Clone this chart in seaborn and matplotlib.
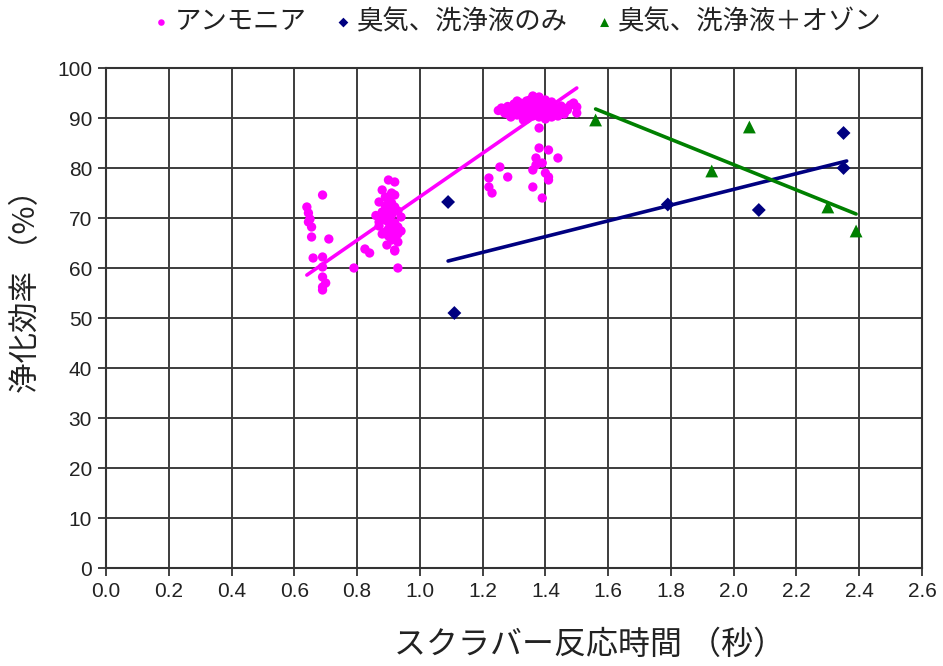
import matplotlib
matplotlib.use("Agg")
import matplotlib.pyplot as plt
import numpy as np
import pandas as pd
import seaborn as sns

# series names
series_names = ["アンモニア", "臭気、洗浄液のみ", "臭気、洗浄液＋オゾン"]

# pink - ammonia, upper dense cluster
amm_top_x = [1.25, 1.26, 1.27, 1.28, 1.28, 1.29, 1.30, 1.30, 1.31, 1.31,
             1.32, 1.32, 1.33, 1.33, 1.34, 1.34, 1.35, 1.35, 1.35, 1.36,
             1.36, 1.36, 1.37, 1.37, 1.37, 1.38, 1.38, 1.38, 1.38, 1.39,
             1.39, 1.39, 1.40, 1.40, 1.40, 1.41, 1.41, 1.42, 1.42, 1.43,
             1.43, 1.44, 1.44, 1.45, 1.45, 1.46, 1.47, 1.48, 1.49, 1.50,
             1.50, 1.31, 1.33, 1.36, 1.40, 1.34, 1.29, 1.38, 1.42, 1.47]
amm_top_y = [91.5, 92.0, 91.0, 92.3, 90.8, 91.6, 92.8, 91.2, 90.6, 92.4,
             91.8, 93.0, 90.9, 92.2, 91.4, 93.4, 90.7, 92.0, 93.6, 91.2,
             92.6, 90.4, 91.8, 93.2, 90.9, 94.2, 92.0, 91.0, 90.2, 93.0,
             91.6, 90.6, 92.4, 91.2, 89.8, 92.8, 90.8, 91.6, 90.2, 92.2,
             91.0, 91.8, 90.4, 92.4, 91.2, 90.8, 91.6, 92.6, 93.0, 92.2,
             91.0, 93.4, 89.6, 94.4, 93.6, 89.8, 90.2, 92.8, 93.2, 92.0]

# pink - lower scattered points right of 1.2
amm_low_x = [1.38, 1.38, 1.41, 1.37, 1.44, 1.39, 1.255, 1.36, 1.41, 1.22,
             1.28, 1.22, 1.23, 1.36, 1.39, 1.41, 1.40, 1.37]
amm_low_y = [88.0, 84.0, 83.6, 82.0, 82.0, 81.0, 80.2, 79.6, 78.2, 78.0,
             78.2, 76.2, 75.0, 76.2, 74.0, 77.6, 79.0, 80.6]

# pink - middle cluster around 0.9
amm_mid_x = [0.86, 0.87, 0.87, 0.88, 0.88, 0.88, 0.89, 0.89, 0.89, 0.89,
             0.90, 0.90, 0.90, 0.90, 0.90, 0.91, 0.91, 0.91, 0.91, 0.92,
             0.92, 0.92, 0.92, 0.93, 0.93, 0.93, 0.94, 0.94, 0.88, 0.90,
             0.91, 0.92, 0.89, 0.90, 0.87, 0.93, 0.91, 0.92, 0.895, 0.92]
amm_mid_y = [70.5, 73.2, 68.4, 75.6, 71.2, 66.8, 72.4, 69.6, 67.2, 74.2,
             77.6, 71.8, 69.2, 66.4, 73.6, 75.0, 70.6, 68.0, 65.6, 77.2,
             72.2, 69.0, 66.6, 71.4, 68.2, 65.2, 70.2, 67.4, 69.8, 70.4,
             71.6, 68.6, 70.8, 67.8, 69.2, 66.8, 73.0, 74.6, 64.6, 63.6]

# pink - left cluster and stragglers
amm_left_x = [0.64, 0.69, 0.645, 0.65, 0.645, 0.655, 0.655, 0.71, 0.66, 0.69,
              0.69, 0.69, 0.69, 0.69, 0.70, 0.79, 0.825, 0.84, 0.93, 0.92]
amm_left_y = [72.2, 74.6, 71.0, 69.8, 69.2, 68.2, 66.2, 65.8, 62.0, 62.2,
              60.2, 58.2, 56.2, 55.6, 57.0, 60.0, 63.8, 63.0, 60.0, 63.4]

# navy diamonds - odour, wash liquid only
odor_x = [1.09, 1.11, 1.79, 2.08, 2.35, 2.35]
odor_y = [73.2, 51.0, 72.7, 71.6, 87.0, 80.0]

# green triangles - odour, wash liquid + ozone
ozone_x = [1.56, 1.93, 2.05, 2.30, 2.39]
ozone_y = [89.6, 79.4, 88.2, 72.2, 67.4]

# linear trendlines: (x start, x end, slope, intercept)
amm_trend = (0.64, 1.50, 43.5, 30.75)
odor_trend = (1.09, 2.36, 15.75, 44.23)
ozone_trend = (1.56, 2.39, -25.3, 131.27)

colors = ["#ff00ff", "#000080", "#008000"]

sns.set_style("white")
plt.rcParams['font.family'] = ['Liberation Sans', 'Noto Sans CJK JP', 'DejaVu Sans']

fig = plt.figure(figsize=(9.43, 6.66), dpi=100)
ax = fig.add_axes([106 / 943, 1 - 568 / 666, 816 / 943, 500 / 666])

amm_x = amm_top_x + amm_low_x + amm_mid_x + amm_left_x
amm_y = amm_top_y + amm_low_y + amm_mid_y + amm_left_y

sns.scatterplot(x=amm_x, y=amm_y, ax=ax, color=colors[0], marker="o", s=45,
                edgecolor="none", label=series_names[0], zorder=3)
sns.scatterplot(x=odor_x, y=odor_y, ax=ax, color=colors[1], marker="D", s=50,
                edgecolor="none", label=series_names[1], zorder=3)
sns.scatterplot(x=ozone_x, y=ozone_y, ax=ax, color=colors[2], marker="^", s=85,
                edgecolor="none", label=series_names[2], zorder=3)

for (x0, x1, m, b), c in zip([amm_trend, odor_trend, ozone_trend], colors):
    xs = np.array([x0, x1])
    sns.lineplot(x=xs, y=m * xs + b, ax=ax, color=c, lw=2.6, zorder=4,
                 legend=False)

ax.set_xlim(0, 2.6)
ax.set_ylim(0, 100)
ax.set_xticks(np.arange(0, 2.61, 0.2))
ax.set_xticklabels([f"{v:.1f}" for v in np.arange(0, 2.61, 0.2)])
ax.set_yticks(np.arange(0, 101, 10))
ax.tick_params(axis="both", labelsize=15, length=6, width=1.3,
               color="#333333", labelcolor="#222222", direction="out",
               bottom=True, left=True, pad=4)
ax.grid(True, color="#3c3c3c", lw=1.4)
for sp in ax.spines.values():
    sp.set_color("#333333")
    sp.set_linewidth(1.5)

ax.set_xlabel("スクラバー反応時間 （秒）", family=['Noto Sans CJK JP'],
              fontsize=23, color="#222222")
ax.xaxis.set_label_coords(0.593, -0.122)
ax.set_ylabel("浄化効率 （%）", family=['Noto Sans CJK JP'],
              fontsize=22, color="#222222")
ax.yaxis.set_label_coords(-0.078, 0.568)

leg = ax.legend(loc="center", bbox_to_anchor=(0.546, 0.967),
                bbox_transform=fig.transFigure, ncol=3, frameon=False,
                prop={"family": ['Noto Sans CJK JP'], "size": 19},
                handletextpad=0.0, columnspacing=0.9, markerscale=0.7,
                handlelength=1.0)
for t in leg.get_texts():
    t.set_color("#222222")

fig.savefig("out.png", dpi=100, facecolor="white")
